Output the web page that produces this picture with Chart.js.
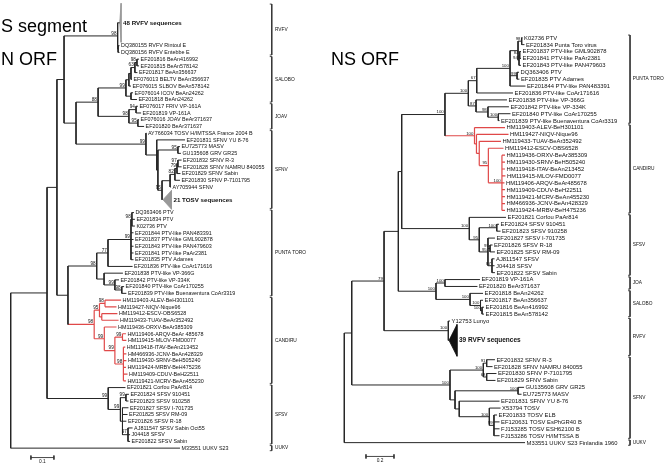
<!DOCTYPE html>
<html>
<head>
<meta charset="utf-8">
<script src="https://cdn.jsdelivr.net/npm/chart.js@4.4.0/dist/chart.umd.min.js"></script>
<style>
  html, body { margin: 0; padding: 0; background: #fff; }
  #wrap { width: 664px; height: 464px; }
</style>
</head>
<body>
<div id="wrap"><canvas id="myChart" width="664" height="464"></canvas></div>
<script>
// ---------- S segment, N ORF tree (left) ----------
const nNames = [
  "48 RVFV sequences", "DQ380155 RVFV Rintoul E", "DQ380156 RVFV Entebbe E",
  "EF201816 BeAn416992", "EF201815 BeAn578142", "EF201817 BeAn356637",
  "EF076013 BELTV BeAn356637", "EF076015 SLBOV BeAn578142", "EF076014 ICOV BeAn24262",
  "EF201818 BeAn24262", "EF076017 FRIV VP-161A", "EF201819 VP-161A",
  "EF076016 JOAV BeAr371637", "EF201820 BeAr371637", "AY766034 TOSV H/IMTSSA France 2004 B",
  "EF201831 SFNV YU 8-76", "EU725773 MASV", "GU135608 GRV GR25",
  "EF201832 SFNV R-3", "EF201828 SFNV NAMRU 840055", "EF201829 SFNV Sabin",
  "EF201830 SFNV P-7101795", "AY705944 SFNV", "21 TOSV sequences",
  "DQ363406 PTV", "EF201834 PTV", "K02736 PTV",
  "EF201844 PTV-like PAN483391", "EF201837 PTV-like GML902878", "EF201843 PTV-like PAN479603",
  "EF201841 PTV-like PaAr2381", "EF201835 PTV Adames", "EF201836 PTV-like CoAr171616",
  "EF201838 PTV-like VP-366G", "EF201842 PTV-like VP-334K", "EF201840 PTV-like CoAr170255",
  "EF201839 PTV-like Buenaventura CoAr3319", "HM119403-ALEV-BeH301101", "HM119427-NIQV-Nique96",
  "HM119412-ESCV-OBS6528", "HM119433-TUAV-BeAr352492", "HM119436-ORXV-BeAr385309",
  "HM119406-ARQV-BeAr 485678", "HM119415-MLOV-FMD0077", "HM119418-ITAV-BeAn213452",
  "HM466936-JCNV-BeAn428329", "HM119430-SRNV-BeH505240", "HM119424-MRBV-BeH475236",
  "HM119409-CDUV-BeH22511", "HM119421-MCRV-BeAn455230", "EF201821 Corfou PaAr814",
  "EF201824 SFSV 910451", "EF201823 SFSV 910258", "EF201827 SFSV I-701735",
  "EF201825 SFSV RM-09", "EF201826 SFSV R-18", "AJ811547 SFSV Sabin Oct55",
  "J04418 SFSV", "EF201822 SFSV Sabin", "M33551 UUKV S23"
];
// distance from the root at each tip (substitutions/site)
const nTips = [
  0.480, 0.473, 0.473, 0.558, 0.558, 0.551, 0.527, 0.523, 0.532, 0.549,
  0.553, 0.567, 0.558, 0.580, 0.590, 0.758, 0.736, 0.740, 0.743, 0.743,
  0.738, 0.736, 0.697, 0.699, 0.536, 0.540, 0.540, 0.534, 0.534, 0.534,
  0.534, 0.534, 0.530, 0.488, 0.471, 0.493, 0.503, 0.480, 0.460, 0.464,
  0.469, 0.460, 0.501, 0.503, 0.498, 0.503, 0.503, 0.501, 0.508, 0.501,
  0.499, 0.514, 0.512, 0.512, 0.508, 0.503, 0.530, 0.519, 0.519, 0.736
];
// internal nodes: [id, distance from root, bootstrap, children...] (number = tip, text = node)
const nNodes = [
  ["rv2", 0.467, 0, 1, 2], ["rv", 0.465, 98, 0, "rv2"],
  ["s45", 0.549, 98, 3, 4], ["s456", 0.540, 63, "s45", 5], ["s4567", 0.523, 0, "s456", 6],
  ["s48", 0.514, 0, "s4567", 7], ["s910", 0.523, 0, 8, 9], ["sal", 0.501, 99, "s48", "s910"],
  ["j12", 0.545, 94, 10, 11], ["j34", 0.553, 95, 12, 13], ["joa", 0.514, 98, "j12", "j34"],
  ["g", 0.380, 88, "sal", "joa"],
  ["wg", 0.727, 95, 16, 17], ["t1", 0.727, 97, 18, 19], ["t2", 0.723, 79, "t1", 20],
  ["t3", 0.714, 82, "t2", 21], ["t4", 0.693, 0, "t3", 22], ["t5", 0.658, 95, "t4", 23],
  ["h3", 0.640, 0, "wg", "t5"], ["h2", 0.635, 0, 15, "h3"], ["h", 0.588, 99, 14, "h2"],
  ["f", 0.284, 0, "g", "h"], ["c", 0.232, 0, "rv", "f"],
  ["pc1", 0.527, 98, 24, 25, 26], ["pc2", 0.523, 99, "pc1", 27, 28, 29, 30, 31],
  ["p1", 0.423, 77, "pc2", 32], ["p4", 0.483, 98, 35, 36], ["p3", 0.453, 99, 34, "p4"],
  ["p2", 0.406, 0, 33, "p3"], ["p0", 0.374, 98, "p1", "p2"],
  ["ca", 0.410, 98, 37, 38], ["cb", 0.396, 0, 39, 40], ["cab", 0.386, 95, "ca", "cb"],
  ["cr1", 0.486, 99, 42, 43], ["cr2", 0.490, 98, 44, 45, 46, 47, 48, 49],
  ["crest", 0.453, 99, "cr1", "cr2"], ["core", 0.407, 99, 41, "crest"],
  ["cand", 0.363, 98, "cab", "core"], ["d", 0.249, 0, "p0", "cand"], ["b", 0.201, 0, "c", "d"],
  ["s1", 0.501, 99, 51, 52], ["s2", 0.510, 97, 56, 57, 58], ["srest", 0.486, 0, 53, 54, 55, "s2"],
  ["s3", 0.477, 99, "s1", "srest"], ["sf", 0.424, 99, 50, "s3"],
  ["a", 0.158, 0, "b", "sf"], ["root", 0, 0, "a", 59]
];
// collapsed clades: [tip, rows taken, distance of apex]
const nCollapsed = [[0, 5.8, 0.474], [23, 2.8, 0.662]];
const nGroups = [
  ["RVFV", 0, 2], ["SALOBO", 3, 9], ["JOAV", 10, 13], ["SFNV", 14, 23],
  ["PUNTA TORO", 24, 36], ["CANDIRU", 37, 49], ["SFSV", 50, 58], ["UUKV", 59, 59]
];

// ---------- NS ORF tree (right) ----------
const nsNames = [
  "K02736 PTV", "EF201834 Punta Toro virus", "EF201837 PTV-like GML902878",
  "EF201841 PTV-like PaAr2381", "EF201843 PTV-like PAN479603", "DQ363406 PTV",
  "EF201835 PTV Adames", "EF201844 PTV-like PAN483391", "EF201836 PTV-like CoAr171616",
  "EF201838 PTV-like VP-366G", "EF201842 PTV-like VP-334K", "EF201840 PTV-like CoAr170255",
  "EF201839 PTV-like Buenaventura CoAr3319", "HM119403-ALEV-BeH301101", "HM119427-NIQV-Nique96",
  "HM119433-TUAV-BeAr352492", "HM119412-ESCV-OBS6528", "HM119436-ORXV-BeAr385309",
  "HM119430-SRNV-BeH505240", "HM119418-ITAV-BeAn213452", "HM119415-MLOV-FMD0077",
  "HM119406-ARQV-BeAr485678", "HM119409-CDUV-BeH22511", "HM119421-MCRV-BeAn455230",
  "HM466936-JCNV-BeAn428329", "HM119424-MRBV-BeH475236", "EF201821 Corfou PaAr814",
  "EF201824 SFSV 910451", "EF201823 SFSV 910258", "EF201827 SFSV I-701735",
  "EF201826 SFSV R-18", "EF201825 SFSV RM-09", "AJ811547 SFSV",
  "J04418 SFSV", "EF201822 SFSV Sabin", "EF201819 VP-161A",
  "EF201820 BeAr371637", "EF201818 BeAn24262", "EF201817 BeAn356637",
  "EF201816 BeAn416992", "EF201815 BeAn578142", "Y12753 Lunyo",
  "39 RVFV sequences", "EF201832 SFNV R-3", "EF201828 SFNV NAMRU 840055",
  "EF201830 SFNV P-7101795", "EF201829 SFNV Sabin", "GU135608 GRV GR25",
  "EU725773 MASV", "EF201831 SFNV YU 8-76", "X53794 TOSV",
  "EF201833 TOSV ELB", "EF120631 TOSV EsPhGR40 B", "FJ153285 TOSV ESH62100 B",
  "FJ153286 TOSV H/IMTSSA B", "M33551 UUKV S23 Finlandia 1960"
];
const nsTips = [
  1.273, 1.287, 1.262, 1.262, 1.262, 1.248, 1.251, 1.294, 1.205, 1.162,
  1.176, 1.187, 1.109, 1.148, 1.173, 1.119, 1.137, 1.148, 1.148, 1.148,
  1.151, 1.144, 1.148, 1.148, 1.148, 1.148, 1.155, 1.105, 1.116, 1.076,
  1.059, 1.076, 1.073, 1.073, 1.076, 0.969, 0.951, 0.991, 0.991, 0.998,
  0.998, 0.755, 0.805, 1.076, 1.059, 1.087, 1.080, 1.284, 1.266, 1.109,
  1.116, 1.091, 1.109, 1.109, 1.109, 1.291
];
const nsNodes = [
  ["pt1", 1.267, 98, 0, 1], ["pt2", 1.253, 84, 2, 3], ["pt3", 1.248, 94, "pt2", 4],
  ["pt4", 1.241, 0, "pt1", "pt3"], ["pt5", 1.234, 99, 5, 6], ["ptc", 1.184, 100, "pt4", "pt5", 7],
  ["r67", 0.946, 67, "ptc", 8], ["b1", 1.100, 100, 11, 12], ["b2", 1.026, 98, 10, "b1"],
  ["b3", 0.941, 87, 9, "b2"], ["pt", 0.886, 100, "r67", "b3"],
  ["core", 1.126, 100, 17, 18, 19, 20, 21, 22, 23, 24, 25], ["c4", 1.029, 95, 16, "core"],
  ["c3", 0.964, 0, 15, "c4"], ["c2", 0.944, 0, 14, "c3"], ["cand", 0.930, 100, 13, "c2"],
  ["x1", 0.719, 100, "pt", "cand"],
  ["sr1", 1.089, 100, 27, 28], ["srA", 1.041, 95, 30, 31], ["srB", 1.055, 87, 32, 33, 34],
  ["srcore", 1.026, 95, 29, "srA", "srB"], ["sr2", 0.964, 95, "sr1", "srcore"],
  ["sfs", 0.893, 100, 26, "sr2"], ["y2", 0.410, 0, "x1", "sfs"],
  ["joa", 0.719, 100, 35, 36], ["sa", 0.984, 100, 39, 40], ["sb", 0.973, 100, 38, "sa"],
  ["sal", 0.898, 100, 37, "sb"], ["y3", 0.655, 100, "joa", "sal"], ["y1", 0.386, 0, "y2", "y3"],
  ["rv", 0.743, 100, 41, 42], ["z", 0.284, 79, "y1", "rv"],
  ["fa1", 1.017, 91, 43, 44], ["fa2", 1.017, 68, 45, 46], ["fa", 0.993, 100, "fa1", "fa2"],
  ["gm", 1.241, 100, 47, 48], ["t1", 1.069, 99, 51, 52, 53, 54], ["t0", 1.036, 100, 50, "t1"],
  ["yt", 0.821, 0, 49, "t0"], ["n455", 0.791, 0, "gm", "yt"], ["sfn", 0.755, 100, "fa", "n455"],
  ["w", 0.053, 0, "z", "sfn"], ["root", 0, 0, "w", 55]
];
const nsCollapsed = [[42, 4.6, 0.748]];
const nsGroups = [
  ["PUNTA TORO", 0, 12], ["CANDIRU", 13, 25], ["SFSV", 26, 34], ["JOA", 35, 36],
  ["SALOBO", 37, 40], ["RVFV", 41, 42], ["SFNV", 43, 54], ["UUKV", 55, 55]
];

const FONT = "'Liberation Sans', Arial, Helvetica, sans-serif";
const LINE = "#262626";
const RED = "#e04848";

const trees = [
  { names: nNames, tips: nTips, nodes: nNodes, collapsed: nCollapsed, groups: nGroups,
    xId: "xL", yId: "yL", red: "cand", bracketX: 1.135, groupX: 1.149, tick: 2 / 230,
    tipFont: 5.4, boldFont: 6.2, supFont: 4.6,
    triFill: "#999", bar: { len: 0.1, from: 0.088, row: 64.6, text: "0.1" } },
  { names: nsNames, tips: nsTips, nodes: nsNodes, collapsed: nsCollapsed, groups: nsGroups,
    xId: "xR", yId: "yR", red: "cand", bracketX: 2.041, groupX: 2.06, tick: 2 / 140,
    tipFont: 5.85, boldFont: 6.5, supFont: 4.3,
    triFill: "#111", bar: { len: 0.2, from: 0.155, row: 60.6, text: "0.2" } }
];

function layout(t) {
  const span = t.names.map((_, i) => {
    const c = t.collapsed.find(e => e[0] === i);
    return c ? c[1] : 1;
  });
  const rows = [0];
  for (let i = 1; i < t.names.length; i++) rows.push(rows[i - 1] + (span[i - 1] + span[i]) / 2);
  const byId = {};
  t.nodes.forEach(n => { byId[n[0]] = n; });
  const ys = {};
  const yOf = ref => {
    if (typeof ref === "number") return rows[ref];
    if (ys[ref] === undefined) {
      const kids = byId[ref].slice(3);
      ys[ref] = (yOf(kids[0]) + yOf(kids[kids.length - 1])) / 2;
    }
    return ys[ref];
  };
  const startX = ref => {
    if (typeof ref === "number") {
      const c = t.collapsed.find(e => e[0] === ref);
      return c ? c[2] : t.tips[ref];
    }
    return byId[ref][1];
  };
  const red = new Set();
  const mark = id => {
    red.add(id);
    byId[id].slice(3).forEach(k => (typeof k === "string" ? mark(k) : red.add("L" + k)));
  };
  if (t.red) mark(t.red);
  const isRed = ref => red.has(typeof ref === "number" ? "L" + ref : ref);

  const black = [], pink = [], brackets = [];
  const seg = (arr, x1, y1, x2, y2) => arr.push({ x: x1, y: y1 }, { x: x2, y: y2 }, { x: NaN, y: NaN });
  t.nodes.forEach(n => {
    const d = n[1], kids = n.slice(3);
    seg(isRed(n[0]) ? pink : black, d, yOf(kids[0]), d, yOf(kids[kids.length - 1]));
    kids.forEach(k => seg(isRed(k) ? pink : black, d, yOf(k), startX(k), yOf(k)));
  });
  const tris = t.collapsed.map(c => {
    const r = rows[c[0]], b = t.tips[c[0]];
    return [{ x: c[2], y: r }, { x: b, y: r - c[1] / 2 }, { x: b, y: r + c[1] / 2 }, { x: c[2], y: r }];
  });
  t.groups.forEach(g => {
    const top = rows[g[1]] - span[g[1]] / 2 + 0.12, bot = rows[g[2]] + span[g[2]] / 2 - 0.12;
    brackets.push({ x: t.bracketX - t.tick, y: top }, { x: t.bracketX, y: top },
      { x: t.bracketX, y: bot }, { x: t.bracketX - t.tick, y: bot }, { x: NaN, y: NaN });
  });
  const bar = [
    { x: t.bar.from, y: t.bar.row - 0.3 }, { x: t.bar.from, y: t.bar.row + 0.3 }, { x: NaN, y: NaN },
    { x: t.bar.from, y: t.bar.row }, { x: t.bar.from + t.bar.len, y: t.bar.row }, { x: NaN, y: NaN },
    { x: t.bar.from + t.bar.len, y: t.bar.row - 0.3 }, { x: t.bar.from + t.bar.len, y: t.bar.row + 0.3 }
  ];
  return { rows, span, yOf, black, pink, tris, brackets, bar, isRed };
}

const laid = trees.map(layout);

const datasets = [];
trees.forEach((t, i) => {
  const L = laid[i];
  const base = { xAxisID: t.xId, yAxisID: t.yId, showLine: true, pointRadius: 0, pointHoverRadius: 0, fill: false, tension: 0 };
  datasets.push({ ...base, data: L.black, borderColor: LINE, borderWidth: 1 });
  datasets.push({ ...base, data: L.pink, borderColor: RED, borderWidth: 1.2 });
  datasets.push({ ...base, data: L.brackets, borderColor: "#333", borderWidth: 0.9 });
  datasets.push({ ...base, data: L.bar, borderColor: "#333", borderWidth: 0.9 });
  L.tris.forEach(tr => datasets.push({ ...base, data: tr, borderColor: t.triFill, borderWidth: 0.8,
    fill: "shape", backgroundColor: t.triFill }));
});

const treeText = {
  id: "treeText",
  afterDatasetsDraw(chart) {
    const c = chart.ctx;
    c.save();
    c.fillStyle = "#111";
    trees.forEach((t, i) => {
      const L = laid[i];
      const X = chart.scales[t.xId], Y = chart.scales[t.yId];
      // tip labels
      c.textAlign = "left";
      c.textBaseline = "middle";
      t.names.forEach((name, k) => {
        const coll = t.collapsed.some(e => e[0] === k);
        c.font = coll ? "bold " + t.boldFont + "px " + FONT : t.tipFont + "px " + FONT;
        c.fillText(name, X.getPixelForValue(t.tips[k]) + (coll ? 2 : 1.5), Y.getPixelForValue(L.rows[k]) + 0.3);
      });
      // bootstrap values
      c.font = t.supFont + "px " + FONT;
      c.textAlign = "right";
      c.textBaseline = "alphabetic";
      t.nodes.forEach(n => {
        if (!n[2]) return;
        c.fillText(String(n[2]), X.getPixelForValue(n[1]) - 1.2, Y.getPixelForValue(L.yOf(n[0])) - 1.2);
      });
      // clade names
      c.font = "4.8px " + FONT;
      c.textAlign = "left";
      c.textBaseline = "middle";
      t.groups.forEach(g => {
        const mid = (L.rows[g[1]] - L.span[g[1]] / 2 + L.rows[g[2]] + L.span[g[2]] / 2) / 2;
        c.fillText(g[0], X.getPixelForValue(t.groupX), Y.getPixelForValue(mid));
      });
      // scale bar text
      c.font = "4.8px " + FONT;
      c.textAlign = "center";
      c.textBaseline = "top";
      c.fillText(t.bar.text, X.getPixelForValue(t.bar.from + t.bar.len / 2), Y.getPixelForValue(t.bar.row) + 1.5);
    });
    // panel titles
    c.fillStyle = "#000";
    c.textAlign = "left";
    c.textBaseline = "alphabetic";
    c.font = "18px " + FONT;
    c.fillText("S segment", 1, 31.5);
    c.fillText("N ORF", 1, 64.5);
    c.fillText("NS ORF", 331, 65);
    c.restore();
  }
};

const ctx = document.getElementById("myChart").getContext("2d");
new Chart(ctx, {
  type: "scatter",
  data: { datasets },
  options: {
    responsive: false,
    animation: false,
    devicePixelRatio: 1,
    events: [],
    layout: { padding: 0 },
    plugins: { legend: { display: false }, tooltip: { enabled: false } },
    scales: {
      xL: { type: "linear", display: false, min: -0.0465, max: 2.8404 },
      yL: { type: "linear", display: false, reverse: true, min: -3.388, max: 65.557 },
      xR: { type: "linear", display: false, min: -2.4593, max: 2.2836 },
      yR: { type: "linear", display: false, reverse: true, min: -5.456, max: 61.693 }
    }
  },
  plugins: [treeText]
});
</script>
</body>
</html>
